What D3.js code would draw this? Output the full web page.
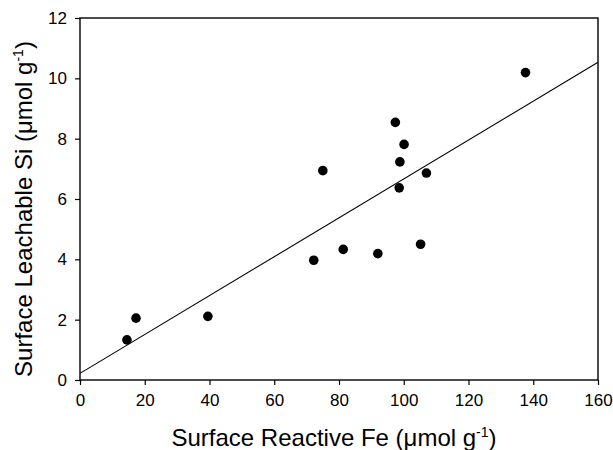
<!DOCTYPE html>
<html>
<head>
<meta charset="utf-8">
<script src="https://cdn.jsdelivr.net/npm/d3@7"></script>
<style>
  body { margin: 0; background: #fff; }
  text { font-family: "Liberation Sans", Arial, sans-serif; fill: #000; }
</style>
</head>
<body>
<script>
// measured values
let surfaceFe = [14.5, 17.3, 39.5, 72.2, 75.0, 81.3, 92.0, 97.4, 98.6, 98.8, 100.1, 105.2, 107.0, 137.6];
let surfaceSi = [1.33, 2.05, 2.11, 3.97, 6.94, 4.33, 4.19, 8.54, 6.37, 7.23, 7.81, 4.50, 6.86, 10.19];
// regression line end points
let fitFe = [0, 160];
let fitSi = [0.22, 10.53];
let xTicks = [0, 20, 40, 60, 80, 100, 120, 140, 160];
let yTicks = [0, 2, 4, 6, 8, 10, 12];

let width = 613,
    height = 450,
    margin = {top: 18, right: 15, bottom: 70, left: 80};

let svg = d3.select("body").append("svg")
    .attr("width", width)
    .attr("height", height);

let x = d3.scaleLinear().domain([0, 160]).range([margin.left, width - margin.right]);
let y = d3.scaleLinear().domain([0, 12]).range([height - margin.bottom, margin.top]);

let xAxis = svg.append("g")
    .attr("transform", `translate(0,${height - margin.bottom})`)
    .call(d3.axisBottom(x).tickValues(xTicks).tickSize(5).tickSizeOuter(0).tickPadding(9));

let yAxis = svg.append("g")
    .attr("transform", `translate(${margin.left},0)`)
    .call(d3.axisLeft(y).tickValues(yTicks).tickSize(5).tickSizeOuter(0).tickPadding(8));

[xAxis, yAxis].forEach(a => {
    a.select(".domain").remove();
    a.selectAll("line").attr("stroke", "#000").attr("stroke-width", 1.2);
    a.selectAll("text").style("font-size", "17px").attr("fill", "#000");
});

// frame
svg.append("rect")
    .attr("x", margin.left)
    .attr("y", margin.top)
    .attr("width", width - margin.left - margin.right)
    .attr("height", height - margin.top - margin.bottom)
    .attr("fill", "none")
    .attr("stroke", "#000")
    .attr("stroke-width", 1.4);

// fit line
svg.append("line")
    .attr("x1", x(fitFe[0])).attr("y1", y(fitSi[0]))
    .attr("x2", x(fitFe[1])).attr("y2", y(fitSi[1]))
    .attr("stroke", "#000")
    .attr("stroke-width", 1.1);

// points
svg.append("g")
    .selectAll("circle")
    .data(surfaceFe)
    .enter()
    .append("circle")
    .attr("cx", d => x(d))
    .attr("cy", (d, i) => y(surfaceSi[i]))
    .attr("r", 4.8)
    .attr("fill", "#000");

// axis titles
let xt = svg.append("text")
    .attr("x", 334)
    .attr("y", 446)
    .attr("text-anchor", "middle")
    .style("font-size", "24px");
xt.append("tspan").text("Surface Reactive Fe (\u03bcmol g");
xt.append("tspan").attr("dy", -9).style("font-size", "14px").text("-1");
xt.append("tspan").attr("dy", 9).text(")");

let yt = svg.append("text")
    .attr("transform", "translate(32,209) rotate(-90)")
    .attr("text-anchor", "middle")
    .style("font-size", "24px");
yt.append("tspan").text("Surface Leachable Si (\u03bcmol g");
yt.append("tspan").attr("dy", -9).style("font-size", "14px").text("-1");
yt.append("tspan").attr("dy", 9).text(")");
</script>
</body>
</html>
